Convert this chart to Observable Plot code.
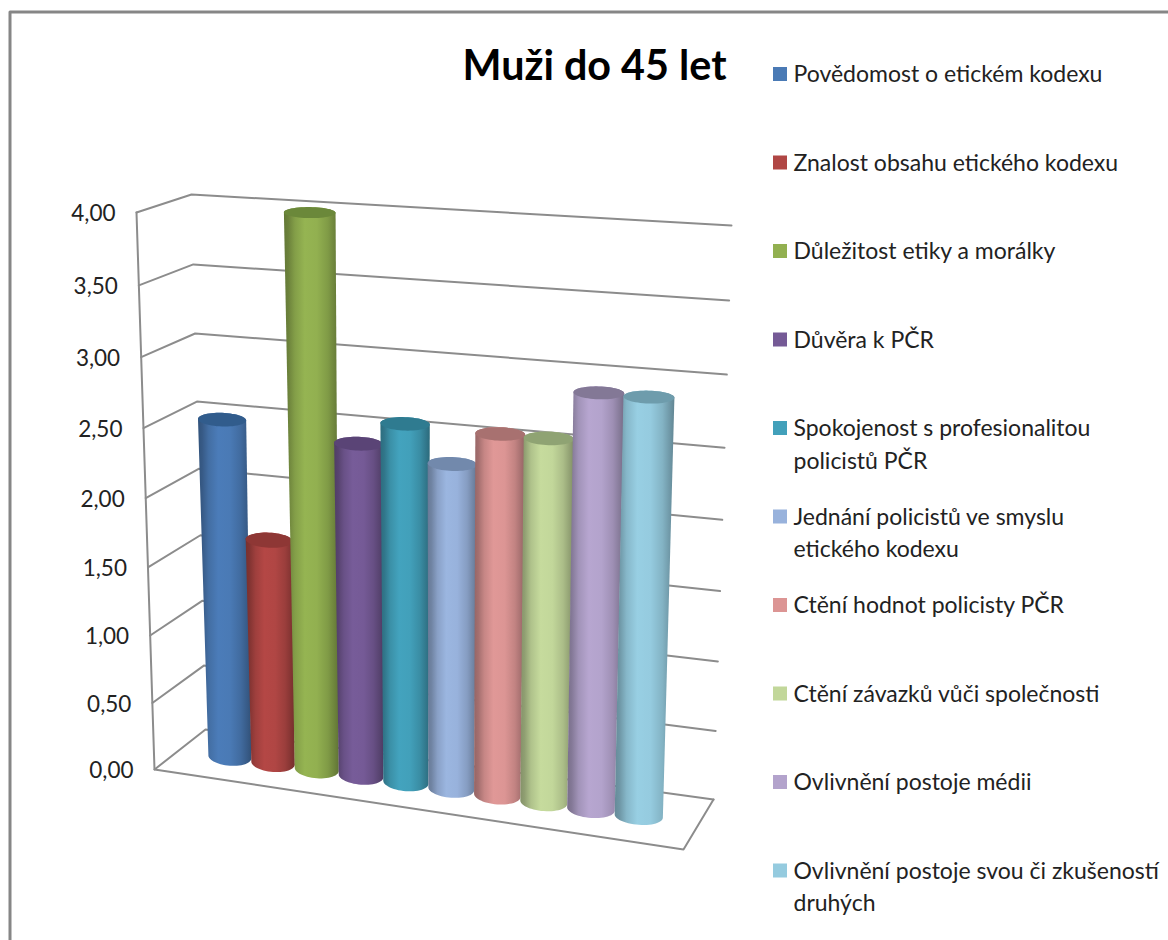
<!DOCTYPE html>
<html><head><meta charset="utf-8">
<script src="https://cdn.jsdelivr.net/npm/d3@7"></script>
<script src="https://cdn.jsdelivr.net/npm/@observablehq/plot@0.6"></script>
<style>html,body{margin:0;padding:0;background:#fff}svg{display:block}</style>
</head><body><div id="chart"></div>
<script>
const titleText = "Muži do 45 let";
const categories = ["Povědomost o etickém kodexu","Znalost obsahu etického kodexu","Důležitost etiky a morálky","Důvěra k PČR","Spokojenost s profesionalitou\npolicistů PČR","Jednání policistů ve smyslu\netického kodexu","Ctění hodnot policisty PČR","Ctění závazků vůči společnosti","Ovlivnění postoje médii","Ovlivnění postoje svou či zkušeností\ndruhých"];
const values = [2.50,1.66,4.00,2.42,2.59,2.34,2.58,2.58,2.92,2.92];
const tickValues = [0,0.5,1,1.5,2,2.5,3,3.5,4];
const tickLabels = ["0,00","0,50","1,00","1,50","2,00","2,50","3,00","3,50","4,00"];
const bodyColors = ["#4a7ab5","#b04644","#92b050","#755a96","#42a0ba","#98b2dc","#dc9594","#c2d79a","#b3a3cc","#95cbdf"];
const capColors  = ["#315c8c","#8e3735","#6b883a","#5a4476","#2f7b90","#7289ac","#a87170","#8fa373","#837896","#6e9cac"];

// View of the 3D box: where its corners fall (floor and the v=4 plane), as the projection's parameters
const floorQuad = [[154,769],[683,849],[713,799],[205,729]];
const topQuad   = [[136,212],[701,250],[731,225],[191,194]];
const vMax = 4, persp = 0.05, perspU = 0.07;

const bilinear = q => (u,t)=>[0,1].map(k=>
  (1-t)*((1-u)*q[0][k]+u*q[1][k]) + t*((1-u)*q[3][k]+u*q[2][k]));
const F = bilinear(floorQuad), T = bilinear(topQuad);
function project(u,d,v){
  const q=v/vMax, s=q*(1-persp)/(1-persp*q);
  const w=u*(1-perspU)/(1-perspU*u);
  const p=F(w,d), r=T(w,d);
  return [p[0]+s*(r[0]-p[0]), p[1]+s*(r[1]-p[1])];
}
const seg = (a,b,z)=>[{x:a[0],y:a[1],z},{x:b[0],y:b[1],z}];

// gridlines
const grid = tickValues.flatMap(v=>[
  ...seg(project(0,0,v),project(0,1,v),"l"+v),
  ...seg(project(0,1,v),project(1,1,v),"l"+v).slice(1)
]);
const box = [
  ...seg(project(0,0,vMax),project(0,0,0),"axis"),
  ...[[1,0],[1,1]].map(([u,d])=>{const p=project(u,d,0);return {x:p[0],y:p[1],z:"axis"};})
];

// cylinders
const u0=0.1027, du=0.0877, radius=0.0439;
function cylinder(i){
  const u=u0+i*du, v=values[i], steps=28;
  const ell=(lvl)=>{
    const c=project(u,0.5,lvl);
    const k=lvl/vMax, rr=radius*(1+0.14*k*(1-u));
    const a=(project(u+rr,0.5,lvl)[0]-project(u-rr,0.5,lvl)[0])/2;
    const b=9-3.5*k, tilt=0.07-0.06*k;
    return th=>({x:c[0]+a*Math.cos(th), y:c[1]+tilt*a*Math.cos(th)+b*Math.sin(th)});
  };
  const top=ell(v), bot=ell(0);
  const body=[], cap=[];
  for(let j=0;j<=steps;j++) body.push(top(Math.PI+Math.PI*j/steps));
  for(let j=0;j<=steps;j++) body.push(bot(Math.PI*j/steps));
  for(let j=0;j<steps*2;j++) cap.push(top(2*Math.PI*j/(steps*2)));
  return {body,cap};
}
const cylinders = values.map((_,i)=>cylinder(i));

function shade(hex,k){const c=d3.rgb(hex);return d3.rgb(c.r*k,c.g*k,c.b*k).formatHex();}
const defs = ()=>{
  const s=d3.create("svg:defs");
  bodyColors.forEach((col,i)=>{
    const g=s.append("linearGradient").attr("id","g"+i).attr("x1",0).attr("x2",1).attr("y1",0).attr("y2",0);
    [[0,.68],[.08,.74],[.2,.9],[.38,1.02],[.6,1],[.8,.88],[.93,.74],[1,.66]].forEach(([o,k])=>
      g.append("stop").attr("offset",o).attr("stop-color",shade(col,k)));
  });
  return s.node();
};

// legend
const legendTop=74, legendStep=88.5, legendX=793;
const legend = categories.map((name,i)=>({name,y:legendTop+legendStep*i,color:bodyColors[i]}));
const axisLabels = tickValues.map((v,i)=>{const p=project(0,0,v);return {x:p[0],y:p[1],label:tickLabels[i]};});

const textFont="Lato, Carlito, sans-serif";
const plot = Plot.plot({
  width:1168,height:940,margin:0,
  x:{domain:[0,1168],range:[0,1168],axis:null},
  y:{domain:[0,940],range:[0,940],axis:null},
  style:{background:"#fff",fontFamily:textFont},
  marks:[
    defs,
    Plot.line([{x:9.5,y:940},{x:9.5,y:11.5},{x:1168,y:11.5}],{x:"x",y:"y",stroke:"#868686",strokeWidth:3}),
    Plot.line(grid,{x:"x",y:"y",z:"z",stroke:"#8c8c8c",strokeWidth:2}),
    Plot.line(box,{x:"x",y:"y",z:"z",stroke:"#8c8c8c",strokeWidth:2}),
    ...cylinders.flatMap((c,i)=>[
      Plot.line(c.body,{x:"x",y:"y",curve:"linear-closed",fill:`url(#g${i})`,stroke:"none"}),
      Plot.line(c.cap,{x:"x",y:"y",curve:"linear-closed",fill:capColors[i],stroke:"none"})
    ]),
    Plot.text(axisLabels,{x:"x",y:"y",text:"label",textAnchor:"end",dx:-21,dy:1.5,fontSize:22.5,fill:"#222"}),
    Plot.text([titleText],{x:()=>462,y:()=>66,text:d=>d,textAnchor:"start",fontSize:41.3,fontWeight:700,fill:"#000"}),
    Plot.rect(legend,{x1:()=>773,x2:()=>787,y1:d=>d.y-7,y2:d=>d.y+7,fill:"color"}),
    Plot.text(legend,{x:()=>legendX,y:d=>d.y-15,text:"name",textAnchor:"start",lineAnchor:"top",lineHeight:1.4,fontSize:23,fill:"#222"})
  ]
});
document.getElementById("chart").append(plot);
</script></body></html>
